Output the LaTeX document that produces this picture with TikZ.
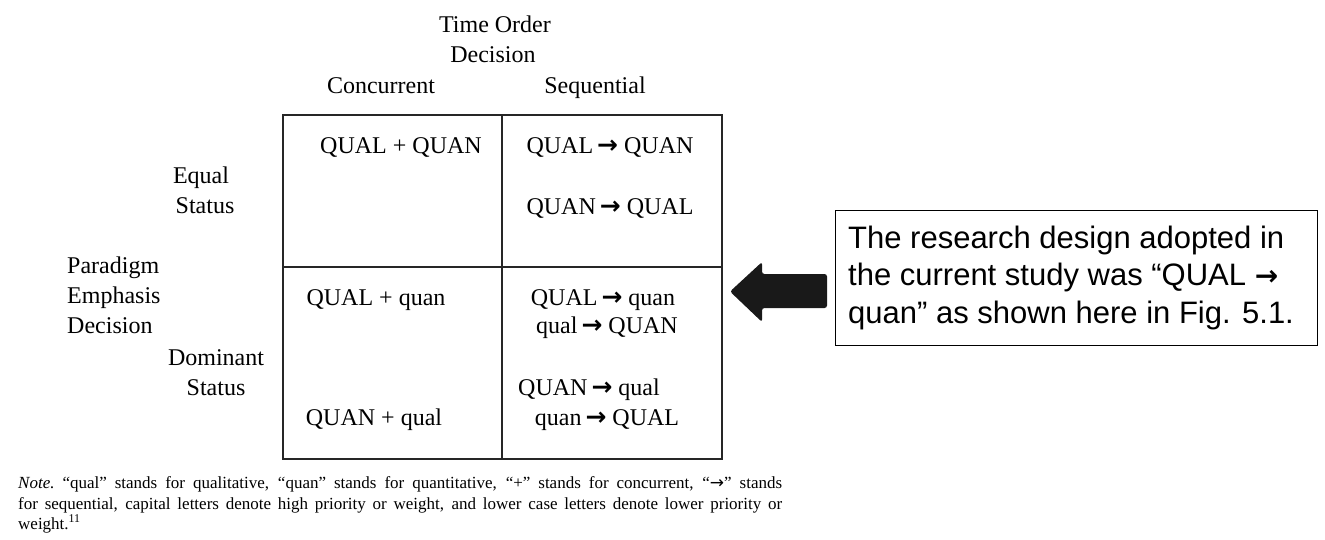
\documentclass[tikz,border=0pt]{standalone}
\usepackage{fontspec}
\setmainfont{Liberation Serif}
\newfontfamily\boxfont{Liberation Sans}
\newfontfamily\arrowfont{DejaVu Sans}
% bold arrow used in the design labels, thin one in the note
\newcommand{\darr}{{\arrowfont\bfseries\fontsize{25}{25}\selectfont →}}
\newcommand{\barr}{{\arrowfont\bfseries\fontsize{28}{28}\selectfont →}}
\newcommand{\narr}{{\arrowfont →}}
\begin{document}
\begin{tikzpicture}[x=1pt,y=-1pt,
  lbl/.style={font=\fontsize{24}{30}\selectfont, inner sep=0pt, anchor=base},
  lbll/.style={lbl, anchor=base west},
  gridline/.style={line width=1.4pt, black!85},
  notetxt/.style={font=\fontsize{17}{20}\selectfont, inner sep=0pt, anchor=base west},
  boxtxt/.style={font=\boxfont\fontsize{31}{37}\selectfont, inner sep=0pt, anchor=base west},
  bigarrow/.style={fill=black!90, rounded corners=2.5pt}]
\useasboundingbox (0,0) rectangle (1325,539);

% column heading
\node[lbl] (time) at (495,32) {Time Order};
\node[lbl] (timedec) at (493,62) {Decision};
\node[lbl] (conc) at (381,93) {Concurrent};
\node[lbl] (seq) at (595,93) {Sequential};

% row headings
\node[lbl] (equal) at (201,183) {Equal};
\node[lbl] (eqstatus) at (205,213) {Status};
\node[lbll] (paradigm) at (67,273) {Paradigm};
\node[lbll] (emphasis) at (67,303) {Emphasis};
\node[lbll] (pdecision) at (67,333) {Decision};
\node[lbl] (dominant) at (216,365) {Dominant};
\node[lbl] (domstatus) at (216,395) {Status};

% the 2x2 matrix
\coordinate (tl) at (283,115);
\coordinate (br) at (722,459);
\draw[gridline] (tl) rectangle (br);
\draw[gridline] (502,115) coordinate (midtop) -- (502,459) coordinate (midbot);
\draw[gridline] (283,267) coordinate (midleft) -- (722,267) coordinate (midright);

% cells
\node[lbl] (c11) at (401,153) {QUAL + QUAN};
\node[lbl] (c12a) at (610,153) {QUAL\,\darr\ QUAN};
\node[lbl] (c12b) at (610,214) {QUAN\,\darr\ QUAL};
\node[lbl] (c21a) at (376,305) {QUAL + quan};
\node[lbl] (c21b) at (374,425) {QUAN + qual};
\node[lbl] (c22a) at (603,305) {QUAL\,\darr\ quan};
\node[lbl] (c22b) at (607,333) {qual\,\darr\ QUAN};
\node[lbl] (c22c) at (589,395) {QUAN\,\darr\ qual};
\node[lbl] (c22d) at (607,425) {quan\,\darr\ QUAL};

% note below the matrix
\node[notetxt] (note1) at (18,488) {\makebox[764pt][s]{\textit{Note.}\ “qual” stands for qualitative, “quan” stands for quantitative, “+” stands for concurrent, “\narr” stands}};
\node[notetxt] (note2) at (18,509) {\makebox[764pt][s]{for sequential, capital letters denote high priority or weight, and lower case letters denote lower priority or}};
\node[notetxt] (note3) at (18,529) {weight.\textsuperscript{11}};

% pointer and comment box
\fill[bigarrow] (827,274) -- (762,274) -- (762,262) -- (730,291.5) -- (762,322) -- (762,308) -- (827,308) -- cycle;
\node[draw, line width=1.1pt, minimum width=482pt, minimum height=135pt, anchor=north west, inner sep=0pt] (box) at (835,210) {};
\node[boxtxt] (b1) at (848,248) {The research design adopted in};
\node[boxtxt] (b2) at (848,285) {the current study was “QUAL \barr};
\node[boxtxt] (b3) at (848,323) {quan” as shown here in Fig. 5.1.};
\end{tikzpicture}
\end{document}
